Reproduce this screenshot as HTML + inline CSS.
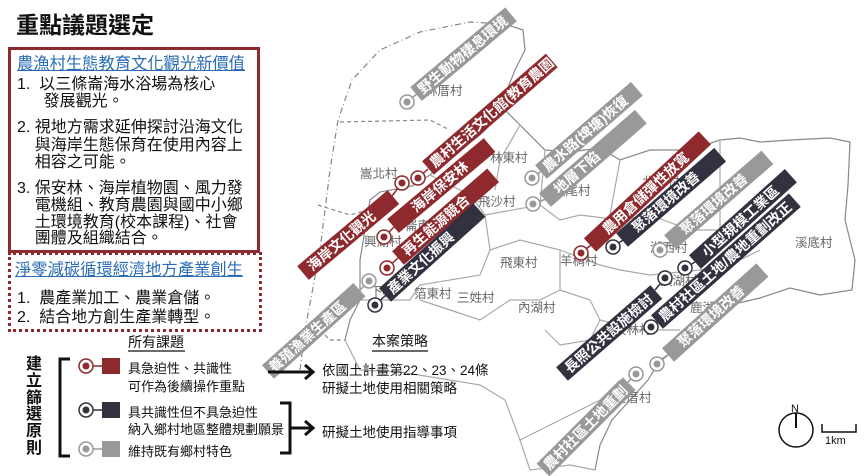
<!DOCTYPE html>
<html><head><meta charset="utf-8"><style>
html,body{margin:0;padding:0;background:#fff;}
body{width:865px;height:476px;overflow:hidden;position:relative;font-family:"Liberation Sans","Noto Sans CJK TC",sans-serif;}
.t{position:absolute;white-space:nowrap;color:#111;}
</style></head><body>
<svg width="865" height="476" style="position:absolute;left:0;top:0" font-family="Liberation Sans, Noto Sans CJK TC, sans-serif">
<g fill="none" stroke="#888" stroke-width="1.2">
<path d="M300,370 L305,330 L320,250 L330,170 L338,120 L352,80 L380,50 L420,32 L470,22 L505,24" stroke-dasharray="6,3,1,3"/>
<path d="M505,24 L523,30 L525,50 L515,70 L505,95 L505,110 L520,125 L545,150 L570,152 L600,148 L620,160 L650,150 L690,150 L720,140 L740,138 L760,142 L790,140 L830,138 L850,142 L848,185 L845,220 L855,260 L852,290 L820,295 L790,288 L760,298 L730,305 L705,320 L690,335 L675,350 L660,360 L648,380 L630,400 L612,420 L600,445 L595,470"/>
<path d="M505,110 L480,135 L460,150 L440,165 L430,175 L412,186 L380,192 L370,200 L365,230 L360,260 L360,300 L350,320 L345,340"/>
<path d="M320,330 L330,340 L345,340" stroke-dasharray="4,3"/>
<path d="M340,122 L430,120 L450,130" stroke-dasharray="4,3"/>
<path d="M318,205 L350,215 L368,210" stroke-dasharray="4,3"/>
<path d="M430,175 L470,195 L485,215 L490,250 L480,275 L420,285 L410,300 L360,300" stroke="#aaa"/>
<path d="M485,215 L540,205 L560,220 L580,215 L620,220 L650,215 L690,230 L720,230" stroke="#aaa"/>
<path d="M490,250 L520,240 L560,250 L560,290 L540,300 L510,300 L480,320 L450,310 L420,300" stroke="#aaa"/>
<path d="M560,250 L600,265 L620,270 L650,275 L700,270 L730,265 L760,250" stroke="#aaa"/>
<path d="M560,290 L590,300 L600,320 L590,340 L560,345 L545,330" stroke="#aaa"/>
<path d="M600,320 L640,330 L680,330" stroke="#aaa"/>
<path d="M545,150 L540,205" stroke="#aaa"/>
<path d="M720,140 L720,230 L700,270" stroke="#aaa"/>
<path d="M620,160 L610,215" stroke="#aaa"/>
<path d="M520,125 L500,160 L495,190" stroke="#aaa"/>
<path d="M595,470 L570,465 L530,470 L520,440 L505,400 L480,385 L450,380 L400,372 L360,370 L345,340" stroke="#aaa"/>
<path d="M520,440 L560,420 L600,400 L620,380" stroke="#aaa"/>
</g>
<g fill="#666" font-size="12.5">
<text x="425" y="95">林厝村</text>
<text x="360" y="178">嵩北村</text>
<text x="490" y="162">林東村</text>
<text x="553" y="195">溪尾村</text>
<text x="478" y="206">飛沙村</text>
<text x="405" y="230">崙南村</text>
<text x="364" y="246">興湖村</text>
<text x="500" y="267">飛東村</text>
<text x="560" y="265">羊稠村</text>
<text x="650" y="252">湖西村</text>
<text x="795" y="247">溪底村</text>
<text x="457" y="302">三姓村</text>
<text x="518" y="312">內湖村</text>
<text x="414" y="298">箔東村</text>
<text x="370" y="296">下林</text>
<text x="642" y="186">北湖村</text>
<text x="660" y="285">頂湖村</text>
<text x="690" y="312">鹿湖村</text>
<text x="614" y="334">東林村</text>
<text x="614" y="402">後厝村</text>
</g>
<g font-size="14" fill="#fff" font-weight="bold">
<g transform="translate(416,94) rotate(-40)"><rect x="0" y="-9" width="124" height="18" fill="#999"/><text x="5" y="5">野生動物棲息環境</text></g>
<g transform="translate(428,168) rotate(-41)"><rect x="0" y="-9" width="164" height="18" fill="#8e2a2e"/><text x="5" y="5">農村生活文化館(教育農園)</text></g>
<g transform="translate(303,273) rotate(-40)"><rect x="0" y="-9" width="118" height="18" fill="#8e2a2e"/><text x="8" y="5">海岸文化觀光</text></g>
<g transform="translate(393,226) rotate(-40)"><rect x="0" y="-9" width="126" height="18" fill="#8e2a2e"/><text x="26" y="5">海岸保安林</text></g>
<g transform="translate(398,258) rotate(-41)"><rect x="0" y="-9" width="126" height="18" fill="#8e2a2e"/><text x="8" y="5">再生能源競合</text></g>
<g transform="translate(385,295) rotate(-42)"><rect x="0" y="-9" width="127" height="18" fill="#32313f"/><text x="6" y="5">產業文化振興</text></g>
<g transform="translate(268,372) rotate(-42)"><rect x="0" y="-9" width="123" height="18" fill="#999"/><text x="4" y="5">養殖漁業生產區</text></g>
<g transform="translate(541,172) rotate(-41)"><rect x="0" y="-9" width="127" height="18" fill="#999"/><text x="5" y="5">農水路(埤塘)恢復</text></g>
<g transform="translate(545,200) rotate(-41)"><rect x="0" y="-9" width="127" height="18" fill="#999"/><text x="14" y="5">地層下陷</text></g>
<g transform="translate(590,245) rotate(-43)"><rect x="0" y="-9" width="157" height="18" fill="#8e2a2e"/><text x="20" y="5">農用倉儲彈性放寬</text></g>
<g transform="translate(622,240) rotate(-41)"><rect x="0" y="-9" width="130" height="18" fill="#32313f"/><text x="16" y="5">聚落環境改善</text></g>
<g transform="translate(670,242) rotate(-41)"><rect x="0" y="-9" width="129" height="18" fill="#999"/><text x="16" y="5">聚落環境改善</text></g>
<g transform="translate(695,262) rotate(-42)"><rect x="0" y="-9" width="129" height="18" fill="#32313f"/><text x="12" y="5">小型規模工業區</text></g>
<g transform="translate(657,322) rotate(-41.5)"><rect x="0" y="-9" width="184" height="18" fill="#32313f"/><text x="5" y="5">農村社區土地/農地重劃改正</text></g>
<g transform="translate(562,374) rotate(-41)"><rect x="0" y="-9" width="125" height="18" fill="#32313f"/><text x="6" y="5">長照公共設施檢討</text></g>
<g transform="translate(668,355) rotate(-42)"><rect x="0" y="-9" width="127" height="18" fill="#999"/><text x="16" y="5">聚落環境改善</text></g>
<g transform="translate(543,470) rotate(-45)"><rect x="0" y="-9" width="122" height="18" fill="#999"/><text x="4" y="5">農村社區土地重劃</text></g>
</g>
<g stroke-width="1.5" fill="#fff">
<g stroke="#999"><line x1="407" y1="102" x2="418" y2="93"/><circle cx="407" cy="102" r="7"/><circle cx="407" cy="102" r="3.5" fill="#999" stroke="none"/>
<line x1="532" y1="178" x2="543" y2="170"/><circle cx="532" cy="178" r="7"/><circle cx="532" cy="178" r="3.5" fill="#999" stroke="none"/>
<line x1="533" y1="204" x2="546" y2="199"/><circle cx="533" cy="204" r="7"/><circle cx="533" cy="204" r="3.5" fill="#999" stroke="none"/>
<line x1="369" y1="281" x2="360" y2="290"/><circle cx="369" cy="281" r="7"/><circle cx="369" cy="281" r="3.5" fill="#999" stroke="none"/>
<line x1="660" y1="250" x2="671" y2="241"/><circle cx="660" cy="250" r="7"/><circle cx="660" cy="250" r="3.5" fill="#999" stroke="none"/>
<line x1="657" y1="364" x2="668" y2="355"/><circle cx="657" cy="364" r="7"/><circle cx="657" cy="364" r="3.5" fill="#999" stroke="none"/>
<line x1="636" y1="374" x2="625" y2="385"/><circle cx="636" cy="374" r="7"/><circle cx="636" cy="374" r="3.5" fill="#999" stroke="none"/></g>
<g stroke="#8e2a2e"><line x1="402" y1="183" x2="392" y2="196"/><circle cx="402" cy="183" r="7"/><circle cx="402" cy="183" r="3.5" fill="#8e2a2e" stroke="none"/>
<line x1="418" y1="178" x2="428" y2="169"/><circle cx="418" cy="178" r="7"/><circle cx="418" cy="178" r="3.5" fill="#8e2a2e" stroke="none"/>
<line x1="384" y1="237" x2="394" y2="227"/><circle cx="384" cy="237" r="7"/><circle cx="384" cy="237" r="3.5" fill="#8e2a2e" stroke="none"/>
<line x1="387" y1="268" x2="398" y2="258"/><circle cx="387" cy="268" r="7"/><circle cx="387" cy="268" r="3.5" fill="#8e2a2e" stroke="none"/>
<line x1="581" y1="253" x2="591" y2="245"/><circle cx="581" cy="253" r="7"/><circle cx="581" cy="253" r="3.5" fill="#8e2a2e" stroke="none"/></g>
<g stroke="#32313f"><line x1="375" y1="305" x2="386" y2="295"/><circle cx="375" cy="305" r="7"/><circle cx="375" cy="305" r="3.5" fill="#32313f" stroke="none"/>
<line x1="613" y1="247" x2="623" y2="240"/><circle cx="613" cy="247" r="7"/><circle cx="613" cy="247" r="3.5" fill="#32313f" stroke="none"/>
<line x1="685" y1="268" x2="695" y2="262"/><circle cx="685" cy="268" r="7"/><circle cx="685" cy="268" r="3.5" fill="#32313f" stroke="none"/>
<line x1="665" y1="278" x2="655" y2="290"/><circle cx="665" cy="278" r="7"/><circle cx="665" cy="278" r="3.5" fill="#32313f" stroke="none"/>
<line x1="651" y1="327" x2="659" y2="321"/><circle cx="651" cy="327" r="7"/><circle cx="651" cy="327" r="3.5" fill="#32313f" stroke="none"/></g>
</g>
<g stroke-width="1.5" fill="#fff">
<path d="M70,359 L60,359 L60,456 L70,456" stroke="#111" stroke-width="3" fill="none"/>
<circle cx="86" cy="366" r="7" stroke="#8e2a2e"/><circle cx="86" cy="366" r="3.5" fill="#8e2a2e" stroke="none"/><line x1="93" y1="366" x2="102" y2="366" stroke="#8e2a2e"/><rect x="102" y="358" width="18" height="16" fill="#8e2a2e" stroke="none"/>
<circle cx="86" cy="410" r="7" stroke="#32313f"/><circle cx="86" cy="410" r="3.5" fill="#32313f" stroke="none"/><line x1="93" y1="410" x2="102" y2="410" stroke="#32313f"/><rect x="102" y="402" width="18" height="16" fill="#32313f" stroke="none"/>
<circle cx="86" cy="449" r="7" stroke="#999"/><circle cx="86" cy="449" r="3.5" fill="#999" stroke="none"/><line x1="93" y1="449" x2="102" y2="449" stroke="#999"/><rect x="102" y="441" width="18" height="16" fill="#999" stroke="none"/>
<path d="M280,403 L290,403 L290,453 L280,453 M290,428 L312,428 M305,421 L313,428 L305,435" stroke="#111" stroke-width="3" fill="none"/>
<path d="M268,372 L312,372 M305,365 L313,372 L305,379" stroke="#111" stroke-width="3" fill="none"/>
<line x1="372" y1="351" x2="428" y2="351" stroke="#111" stroke-width="1.2"/>
<line x1="128" y1="351" x2="185" y2="351" stroke="#111" stroke-width="1.2"/>
</g>
<g stroke="#111" stroke-width="1.5" fill="none">
<circle cx="796" cy="430" r="17"/><line x1="796" y1="413" x2="796" y2="428" stroke-width="2"/>
<path d="M822,424 L822,432 L856,432 L856,424"/>
</g>
<text x="791" y="412" font-size="11" fill="#111">N</text>
<text x="825" y="444" font-size="11" fill="#111">1km</text>
</svg>
<div class="t" style="left:16px;top:6px;font-size:23px;font-weight:bold;">重點議題選定</div>
<div style="position:absolute;left:8px;top:47px;width:246px;height:200px;border:3px solid #8e2a2e;"></div>
<div style="position:absolute;left:8px;top:252px;width:248px;height:74px;border:3px dotted #8e2a2e;"></div>
<div class="t" style="left:17px;top:50px;font-size:16.3px;color:#2a6cb5;text-decoration:underline;">農漁村生態教育文化觀光新價值</div>
<div class="t" style="left:17px;top:76px;font-size:16px;line-height:17px;">1.&nbsp; 以三條崙海水浴場為核心<br>&nbsp;&nbsp;&nbsp;&nbsp;&nbsp;&nbsp;發展觀光。</div>
<div class="t" style="left:17px;top:119px;font-size:16px;line-height:17.5px;">2. 視地方需求延伸探討沿海文化<br>&nbsp;&nbsp;&nbsp;&nbsp;與海岸生態保育在使用內容上<br>&nbsp;&nbsp;&nbsp;&nbsp;相容之可能。</div>
<div class="t" style="left:17px;top:181px;font-size:16px;line-height:16.8px;">3. 保安林、海岸植物園、風力發<br>&nbsp;&nbsp;&nbsp;&nbsp;電機組、教育農園與國中小鄉<br>&nbsp;&nbsp;&nbsp;&nbsp;土環境教育(校本課程)、社會<br>&nbsp;&nbsp;&nbsp;&nbsp;團體及組織結合。</div>
<div class="t" style="left:15px;top:256px;font-size:16.3px;color:#2a6cb5;text-decoration:underline;">淨零減碳循環經濟地方產業創生</div>
<div class="t" style="left:17px;top:284px;font-size:16px;">1.&nbsp; 農產業加工、農業倉儲。</div>
<div class="t" style="left:17px;top:303px;font-size:16px;">2.&nbsp; 結合地方創生產業轉型。</div>
<div class="t" style="left:128px;top:332px;font-size:14px;">所有課題</div>
<div class="t" style="left:372px;top:331px;font-size:14px;">本案策略</div>
<div class="t" style="left:26px;top:357px;font-size:16px;line-height:16.8px;white-space:normal;width:17px;font-weight:bold;">建立篩選原則</div>
<div class="t" style="left:128px;top:360px;font-size:13px;line-height:18px;">具急迫性、共識性<br>可作為後續操作重點</div>
<div class="t" style="left:128px;top:404px;font-size:13px;line-height:17px;">具共識性但不具急迫性<br>納入鄉村地區整體規劃願景</div>
<div class="t" style="left:128px;top:441px;font-size:13px;">維持既有鄉村特色</div>
<div class="t" style="left:322px;top:362px;font-size:13.5px;line-height:18px;">依國土計畫第22、23、24條<br>研擬土地使用相關策略</div>
<div class="t" style="left:322px;top:421px;font-size:13.5px;">研擬土地使用指導事項</div>
</body></html>
